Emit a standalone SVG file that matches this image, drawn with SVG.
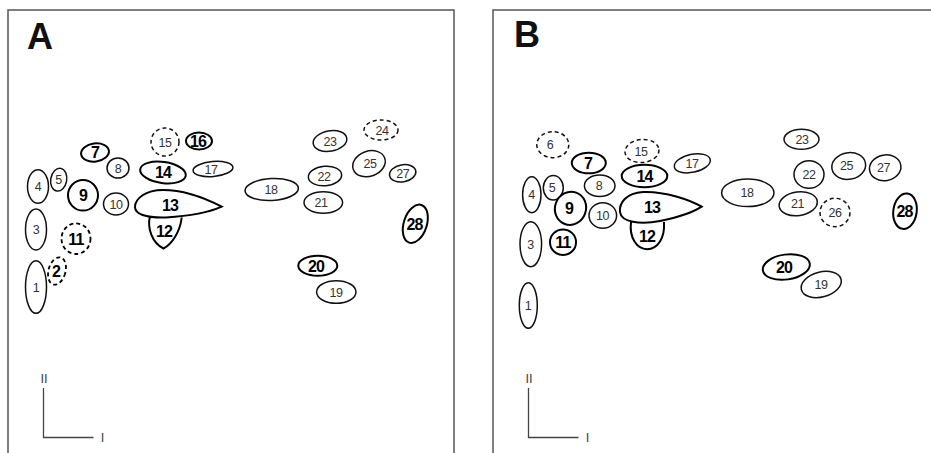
<svg xmlns="http://www.w3.org/2000/svg" width="931" height="453" viewBox="0 0 931 453">
<style>
.frame{fill:none;stroke:#555;stroke-width:1.5}
.ax{fill:none;stroke:#444;stroke-width:1.3}
.n{fill:#fff;stroke:#111;stroke-width:1.5}
.b{fill:#fff;stroke:#000;stroke-width:2}
.d{fill:#fff;stroke:#111;stroke-width:1.5;stroke-dasharray:4 3}
.db{fill:#fff;stroke:#000;stroke-width:1.8;stroke-dasharray:4 3}
.t{font-family:"Liberation Sans",Arial,sans-serif;font-size:12.5px;fill:#333;text-anchor:middle;letter-spacing:-0.4px}
.tb{font-family:"Liberation Sans",Arial,sans-serif;font-size:16px;font-weight:bold;fill:#000;text-anchor:middle;letter-spacing:-0.8px}
.title{font-family:"Liberation Sans",Arial,sans-serif;font-size:36px;font-weight:bold;fill:#111}
.axl{font-family:"Liberation Sans",Arial,sans-serif;font-size:13px;fill:#444;text-anchor:middle}
</style>
<rect width="931" height="453" fill="#fff"/>
<g id="frames">
<path class="frame" d="M8 453V10H454V453"/>
<path class="frame" d="M493 453V10H931"/>
<text class="title" x="27" y="49">A</text>
<text class="title" x="514" y="47">B</text>
</g>
<g id="axes">
<path class="ax" d="M43.5 388V437.5H93.5"/>
<text class="axl" x="44" y="383">II</text>
<text class="axl" x="102.5" y="441.5">I</text>
<path class="ax" d="M528.5 388V437.5H578.5"/>
<text class="axl" x="529" y="383">II</text>
<text class="axl" x="587.5" y="441.5">I</text>
</g>
<g id="connectors"/>
<!-- Panel A -->
<g id="A1"><ellipse class="n" cx="36" cy="287" rx="10.5" ry="26.3"/><text class="t" x="36" y="291.5">1</text></g>
<g id="A2"><ellipse class="db" cx="57" cy="271" rx="8.5" ry="14" transform="rotate(15 57 271)"/><text class="tb" x="56" y="277">2</text></g>
<g id="A3"><ellipse class="n" cx="36" cy="229.5" rx="10.5" ry="20.5"/><text class="t" x="36" y="234">3</text></g>
<g id="A4"><ellipse class="n" cx="38" cy="186.5" rx="10.5" ry="16.7"/><text class="t" x="38" y="191">4</text></g>
<g id="A5"><ellipse class="n" cx="58.7" cy="179.7" rx="8" ry="11.5" transform="rotate(10 58.7 179.7)"/><text class="t" x="58.5" y="184">5</text></g>
<g id="A7"><ellipse class="b" cx="95" cy="152.5" rx="14" ry="9" transform="rotate(-8 95 152.5)"/><text class="tb" x="95" y="158">7</text></g>
<g id="A8"><ellipse class="n" cx="118" cy="168" rx="11" ry="10"/><text class="t" x="118" y="172.5">8</text></g>
<g id="A9"><ellipse class="b" cx="83" cy="195.3" rx="15" ry="15.3"/><text class="tb" x="83" y="201">9</text></g>
<g id="A10"><ellipse class="n" cx="116" cy="204" rx="12.5" ry="11"/><text class="t" x="116" y="208.5">10</text></g>
<g id="A11"><ellipse class="db" cx="76" cy="238.7" rx="14.5" ry="15.3"/><text class="tb" x="76" y="244.5">11</text></g>
<g id="A12"><path class="b" d="M150 216C147 228 152 243 163.5 248.5C172 244 180 232 181.7 217.5"/><text class="tb" x="164" y="237">12</text></g>
<g id="A13"><path class="b" d="M221.7 206.7C205 198 185 190 163 190C145 190 135 199 135 207C135 214 145 218 166 217.5C190 216 210 212 221.7 206.7Z"/><text class="tb" x="170" y="211">13</text></g>
<g id="A14"><ellipse class="b" cx="163" cy="172.5" rx="23" ry="10.5" transform="rotate(8 163 172.5)"/><text class="tb" x="163" y="178">14</text></g>
<g id="A15"><ellipse class="d" cx="165" cy="142" rx="14" ry="14"/><text class="t" x="165" y="146.5">15</text></g>
<g id="A16"><ellipse class="b" cx="199" cy="141" rx="13" ry="8.5"/><text class="tb" x="198" y="147">16</text></g>
<g id="A17"><ellipse class="n" cx="213" cy="169" rx="20" ry="7.5" transform="rotate(-5 213 169)"/><text class="t" x="211" y="173.5">17</text></g>
<g id="A18"><ellipse class="n" cx="271.7" cy="189.5" rx="26.7" ry="11" transform="rotate(-3 271.7 189.5)"/><text class="t" x="271" y="194">18</text></g>
<g id="A19"><ellipse class="n" cx="336.3" cy="292" rx="19.7" ry="11.3"/><text class="t" x="336" y="296.5">19</text></g>
<g id="A20"><ellipse class="b" cx="317.8" cy="265.7" rx="19.5" ry="10"/><text class="tb" x="316" y="271.5">20</text></g>
<g id="A21"><ellipse class="n" cx="323.3" cy="202.5" rx="19.3" ry="10.8"/><text class="t" x="321" y="207">21</text></g>
<g id="A22"><ellipse class="n" cx="325" cy="176" rx="16.7" ry="9.7" transform="rotate(-5 325 176)"/><text class="t" x="324" y="180.5">22</text></g>
<g id="A23"><ellipse class="n" cx="330" cy="141" rx="17" ry="10.2" transform="rotate(-10 330 141)"/><text class="t" x="330" y="145.5">23</text></g>
<g id="A24"><ellipse class="d" cx="381" cy="130" rx="17" ry="10"/><text class="t" x="382" y="134.5">24</text></g>
<g id="A25"><ellipse class="n" cx="369" cy="163.7" rx="16.7" ry="12.5" transform="rotate(-20 369 163.7)"/><text class="t" x="370" y="167.5">25</text></g>
<g id="A27"><ellipse class="n" cx="402.7" cy="173.3" rx="13.3" ry="8.5" transform="rotate(-10 402.7 173.3)"/><text class="t" x="402.7" y="177.8">27</text></g>
<g id="A28"><ellipse class="b" cx="415.3" cy="223.8" rx="11.5" ry="19.8" transform="rotate(18 415.3 223.8)"/><text class="tb" x="414.5" y="229.5">28</text></g>
<!-- Panel B -->
<g id="B1"><ellipse class="n" cx="528.3" cy="305.5" rx="9" ry="22.8"/><text class="t" x="528" y="310">1</text></g>
<g id="B3"><ellipse class="n" cx="530.8" cy="244.2" rx="10.8" ry="22.5"/><text class="t" x="530.5" y="248.7">3</text></g>
<g id="B4"><ellipse class="n" cx="531.8" cy="194.7" rx="9.2" ry="18"/><text class="t" x="531.5" y="199.2">4</text></g>
<g id="B5"><ellipse class="n" cx="553.3" cy="187.8" rx="10" ry="12.2"/><text class="t" x="552" y="192.3">5</text></g>
<g id="B6"><ellipse class="d" cx="552.8" cy="144.7" rx="16" ry="13"/><text class="t" x="550" y="149">6</text></g>
<g id="B7"><ellipse class="b" cx="588.8" cy="163" rx="17" ry="10.3"/><text class="tb" x="588" y="168.5">7</text></g>
<g id="B8"><ellipse class="n" cx="599.7" cy="185.8" rx="15.3" ry="10.8"/><text class="t" x="599" y="190.3">8</text></g>
<g id="B9"><ellipse class="b" cx="570.5" cy="208.3" rx="15.5" ry="16.7" transform="rotate(20 570.5 208.3)"/><text class="tb" x="569" y="214">9</text></g>
<g id="B10"><ellipse class="n" cx="602.8" cy="215.5" rx="13.8" ry="12.8"/><text class="t" x="602.5" y="220">10</text></g>
<g id="B11"><ellipse class="b" cx="563" cy="242.2" rx="13" ry="12.8"/><text class="tb" x="563" y="248">11</text></g>
<g id="B12"><path class="b" d="M631 222C629 238 637 249 647 249.3C658 249 665 238 664 222"/><text class="tb" x="647" y="241.5">12</text></g>
<g id="B13"><path class="b" d="M701.7 206.7C690 200 665 191 643 192C626 193 619 203 620 212C621 222 640 225 660 221C680 217 695 211 701.7 206.7Z"/><text class="tb" x="652" y="213">13</text></g>
<g id="B14"><ellipse class="b" cx="644.5" cy="176" rx="22.8" ry="11.2"/><text class="tb" x="644.5" y="181.5">14</text></g>
<g id="B15"><ellipse class="d" cx="642" cy="151" rx="17" ry="11.5" transform="rotate(-5 642 151)"/><text class="t" x="641" y="155.5">15</text></g>
<g id="B17"><ellipse class="n" cx="692.3" cy="163.3" rx="18.3" ry="9" transform="rotate(-12 692.3 163.3)"/><text class="t" x="692" y="167.8">17</text></g>
<g id="B18"><ellipse class="n" cx="747.8" cy="192.8" rx="26.2" ry="13.8"/><text class="t" x="747" y="197">18</text></g>
<g id="B19"><ellipse class="n" cx="821.2" cy="284.5" rx="20.5" ry="12.5" transform="rotate(-15 821.2 284.5)"/><text class="t" x="821" y="289">19</text></g>
<g id="B20"><ellipse class="b" cx="786.3" cy="267" rx="23.7" ry="12.5" transform="rotate(-8 786.3 267)"/><text class="tb" x="784" y="273">20</text></g>
<g id="B21"><ellipse class="n" cx="798.2" cy="203.8" rx="19.2" ry="11.8" transform="rotate(-8 798.2 203.8)"/><text class="t" x="797.5" y="208">21</text></g>
<g id="B22"><ellipse class="n" cx="809" cy="174.5" rx="15" ry="13.8"/><text class="t" x="809" y="179">22</text></g>
<g id="B23"><ellipse class="n" cx="801.5" cy="139.3" rx="17.5" ry="10"/><text class="t" x="802" y="143.8">23</text></g>
<g id="B25"><ellipse class="n" cx="848.7" cy="166" rx="17" ry="13.3" transform="rotate(-10 848.7 166)"/><text class="t" x="846.5" y="170">25</text></g>
<g id="B26"><ellipse class="d" cx="835" cy="212.5" rx="15" ry="14.2"/><text class="t" x="835" y="217">26</text></g>
<g id="B27"><ellipse class="n" cx="885.2" cy="167.8" rx="15.8" ry="12.8" transform="rotate(-10 885.2 167.8)"/><text class="t" x="883.5" y="172.3">27</text></g>
<g id="B28"><ellipse class="b" cx="905" cy="211.2" rx="11.7" ry="17.8" transform="rotate(8 905 211.2)"/><text class="tb" x="904.5" y="217">28</text></g>
</svg>
